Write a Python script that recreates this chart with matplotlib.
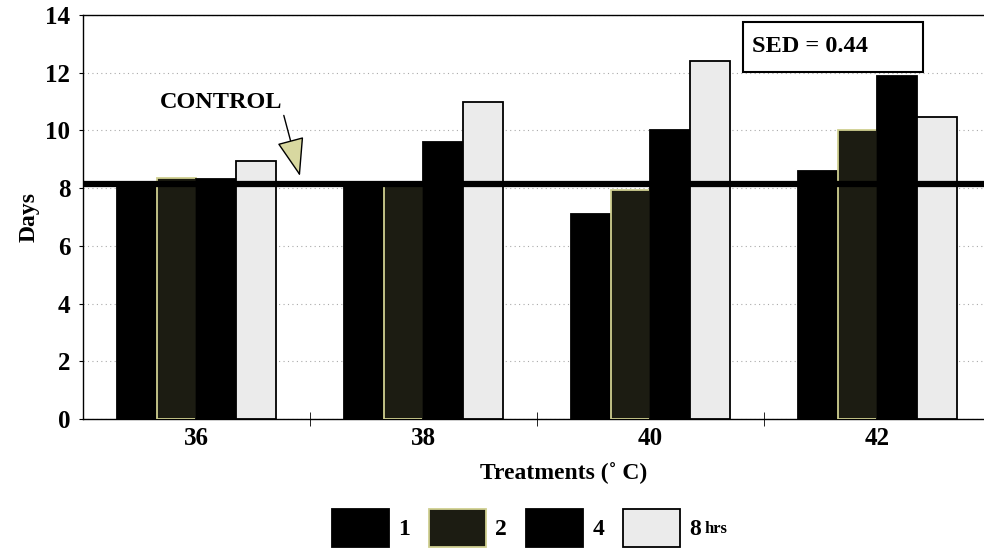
import matplotlib.pyplot as plt
import numpy as np
from matplotlib.patches import Patch, Rectangle

plt.rcParams['font.family'] = ['Liberation Serif', 'DejaVu Serif']
plt.rcParams['font.weight'] = 'bold'

treatments = ['36', '38', '40', '42']
hours = ['1', '2', '4', '8']
days_1h = [8.1, 8.1, 7.1, 8.6]
days_2h = [8.35, 8.1, 7.95, 10.0]
days_4h = [8.3, 9.6, 10.0, 11.9]
days_8h = [8.95, 11.0, 12.4, 10.45]
control = 8.15
sed_text = 'SED = 0.44'

series = [days_1h, days_2h, days_4h, days_8h]
faces = ['#000000', '#1c1c12', '#000000', '#ebebeb']
edges = ['#000000', '#cfcf90', '#000000', '#000000']

fig = plt.figure(figsize=(9.84, 5.5), dpi=100)
ax = fig.add_axes([0.0843, 1 - 419 / 550, 1.0071 - 0.0843, (419 - 15) / 550])

x = np.arange(len(treatments))
w = 0.176
for i, vals in enumerate(series):
    ax.bar(x + (i - 1.5) * w, vals, w, color=faces[i], edgecolor=edges[i],
           linewidth=1.3, zorder=3)

ax.axhline(control, color='black', linewidth=4.5, zorder=4)

ax.set_xlim(-0.5, 3.5)
ax.set_ylim(0, 14)
ax.set_yticks(np.arange(0, 15, 2))
ax.yaxis.grid(True, linestyle=(0, (1, 3)), color='#aaaaaa', linewidth=0.8, zorder=0)
ax.set_xticks(x)
ax.set_xticklabels(treatments)
ax.set_xticks(x[:-1] + 0.5, minor=True)
ax.tick_params(axis='x', which='major', length=0, labelsize=18, pad=6)
ax.tick_params(axis='x', which='minor', length=10, direction='inout')
ax.tick_params(axis='y', length=3, labelsize=18, pad=6)
for lab in ax.get_xticklabels() + ax.get_yticklabels():
    lab.set_fontweight('bold')
ax.spines['right'].set_visible(False)
for s in ['left', 'bottom', 'top']:
    ax.spines[s].set_linewidth(1.0)

ax.set_xlabel('Treatments (\u02da C)', fontsize=17, fontweight='bold', labelpad=8.5)
ax.xaxis.label.set_x(0.529)
ax.set_ylabel('Days', fontsize=17, fontweight='bold', labelpad=4)

ax.annotate('CONTROL', xy=(0.456, 8.42), xytext=(0.108, 10.98),
            fontsize=17.5, fontweight='bold', ha='center', va='center', zorder=6,
            arrowprops=dict(arrowstyle='-|>,head_length=1.4,head_width=0.5',
                            facecolor='#d8d8a0', edgecolor='black', lw=1.0,
                            relpos=(1.0, 0.15), shrinkA=0, shrinkB=0))

ax.add_patch(Rectangle((0.727, 0.859), 0.198, 0.124, transform=ax.transAxes,
                       facecolor='white', edgecolor='black', linewidth=1.5, zorder=5))
ax.text(0.7365, 0.921, sed_text, transform=ax.transAxes, fontsize=17.5,
        fontweight='bold', ha='left', va='center', zorder=6)

handles = [Patch(facecolor=faces[i], edgecolor=edges[i], linewidth=1.3) for i in range(4)]
leg = fig.legend(handles, hours, loc='upper center', bbox_to_anchor=(0.525, 1 - 492 / 550),
                 ncol=4, frameon=False, fontsize=17, handlelength=2.4, handleheight=2.1,
                 columnspacing=0.8, handletextpad=0.4, borderpad=0.2)

fig.canvas.draw()
bb = leg.get_texts()[-1].get_window_extent()
fig.text((bb.x1 + 4) / fig.bbox.width, (bb.y0 + bb.y1) / 2 / fig.bbox.height,
         'hrs', fontsize=12, fontweight='bold', ha='left', va='center')

fig.savefig('out.png', dpi=100)
